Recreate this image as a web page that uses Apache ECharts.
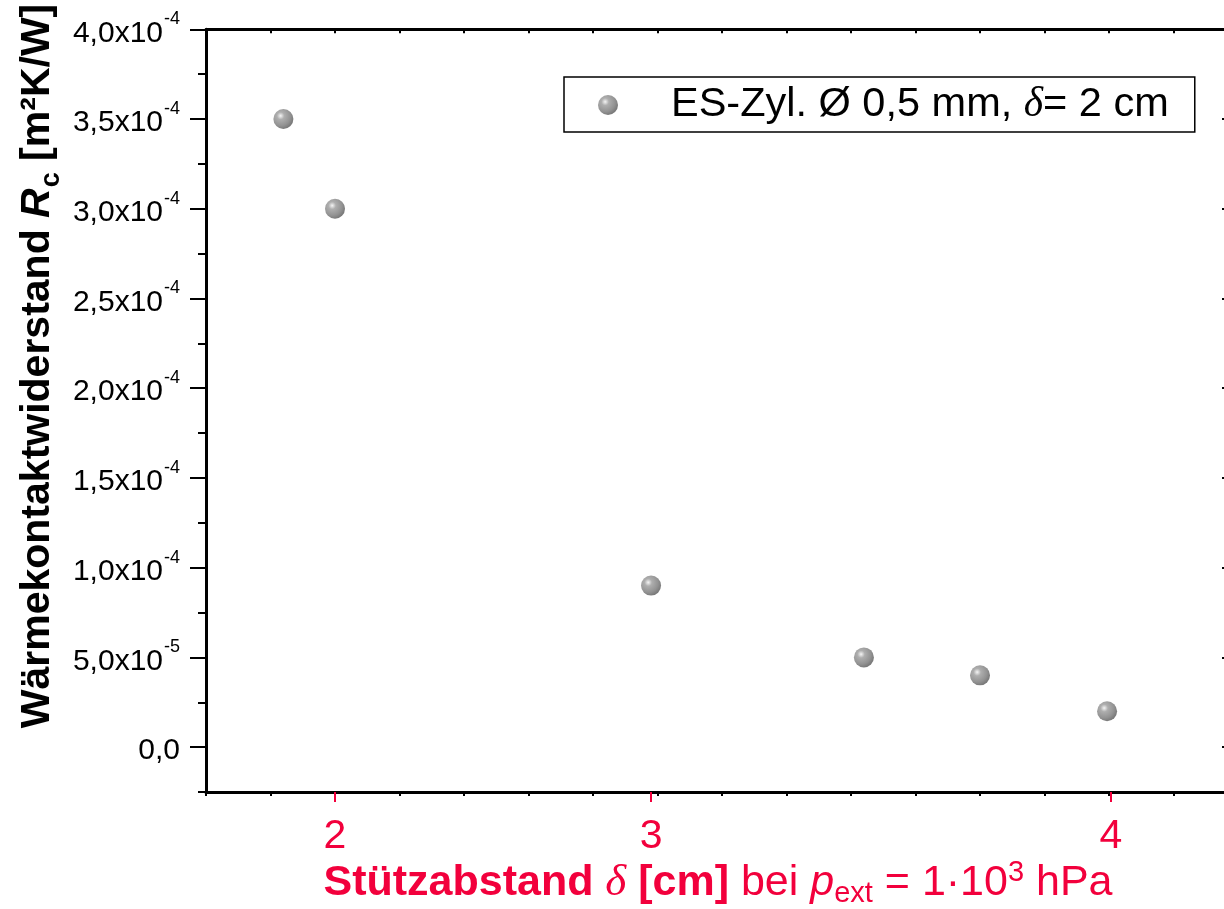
<!DOCTYPE html>
<html>
<head>
<meta charset="utf-8">
<script src="https://cdn.jsdelivr.net/npm/echarts@6/dist/echarts.min.js"></script>
<style>html,body{margin:0;padding:0;background:#fff;overflow:hidden;}#c{width:1260px;height:909px;}</style>
</head>
<body>
<div id="c"></div>
<script>
// Data (x in underlying linear axis units of the bottom scale; red labels give δ)
const xPos = [3.2, 4.0, 8.9, 12.2, 14.0, 15.97];
const yVals = [3.5e-4, 3.0e-4, 9.0e-5, 5.0e-5, 4.0e-5, 2.0e-5];
const seriesName = 'ES-Zyl. Ø 0,5 mm, δ= 2 cm';
// red δ tick labels and their positions on the linear axis
const redTickPos = [4.0, 8.9, 16.03];
const redTickLabels = ['2', '3', '4'];
// y tick values and labels
const yTickValues = [0, 5e-5, 1e-4, 1.5e-4, 2e-4, 2.5e-4, 3e-4, 3.5e-4, 4e-4];
const yTickMant = ['0,0', '5,0', '1,0', '1,5', '2,0', '2,5', '3,0', '3,5', '4,0'];
const yTickExp = ['', '-5', '-4', '-4', '-4', '-4', '-4', '-4', '-4'];

const RED = '#f2003c';
const FONT = 'Liberation Sans, Arial, sans-serif';
const chart = echarts.init(document.getElementById('c'), null, {renderer: 'canvas'});

const sphere = {
  type: 'radial', x: 0.36, y: 0.34, r: 0.66,
  colorStops: [
    {offset: 0, color: '#f2f2f2'},
    {offset: 0.28, color: '#9a9a9a'},
    {offset: 0.75, color: '#777777'},
    {offset: 1, color: '#5a5a5a'}
  ]
};

function nearestIdx(arr, v) {
  let best = 0, bd = Infinity;
  arr.forEach((a, i) => { const d = Math.abs(a - v); if (d < bd) { bd = d; best = i; } });
  return best;
}

const xMin = 2, xMax = 18, yMin = -2.5e-5, yMax = 4e-4;

const option = {
  animation: false,
  backgroundColor: '#fff',
  textStyle: {fontFamily: FONT},
  grid: {left: 206, top: 29.3, width: 1032, height: 762.7, containLabel: false},
  legend: {
    left: 564, top: 77,
    padding: [7, 26, 6, 34],
    borderColor: '#000', borderWidth: 1.5,
    itemWidth: 20, itemHeight: 20,
    icon: 'circle',
    data: [seriesName],
    formatter: function () { return '{t|ES-Zyl. Ø 0,5 mm, }{i|δ}{t|= 2 cm}'; },
    textStyle: {
      padding: [0, 0, 0, 48],
      rich: {
        t: {fontFamily: FONT, fontSize: 41.5, color: '#000', lineHeight: 44},
        i: {fontFamily: 'Liberation Serif, serif', fontStyle: 'italic', fontSize: 41.5, color: '#000', lineHeight: 44}
      }
    }
  },
  xAxis: [
    {
      type: 'value', position: 'bottom', min: xMin, max: xMax, interval: 1,
      axisLine: {show: true, onZero: false, lineStyle: {color: '#000', width: 3}},
      axisTick: {show: true, length: 4, lineStyle: {color: '#000', width: 2}},
      axisLabel: {show: false}, splitLine: {show: false}
    },
    {
      type: 'value', position: 'top', min: xMin, max: xMax, interval: 1,
      axisLine: {show: true, onZero: false, lineStyle: {color: '#000', width: 3}},
      axisTick: {show: true, inside: true, length: 4, lineStyle: {color: '#000', width: 2}},
      axisLabel: {show: false}, splitLine: {show: false}
    },
    {
      type: 'value', position: 'bottom', min: xMin, max: xMax,
      axisLine: {show: false, onZero: false},
      axisTick: {show: true, length: 10, customValues: redTickPos, lineStyle: {color: RED, width: 2}},
      axisLabel: {
        show: true, customValues: redTickPos, color: RED, fontSize: 41, fontFamily: FONT, margin: 24,
        formatter: function (v) { return redTickLabels[nearestIdx(redTickPos, v)]; }
      },
      splitLine: {show: false}
    }
  ],
  yAxis: [
    {
      type: 'value', position: 'left', min: yMin, max: yMax, interval: 2.5e-5,
      axisLine: {show: true, onZero: false, lineStyle: {color: '#000', width: 3}},
      axisTick: {show: true, length: 8, lineStyle: {color: '#000', width: 2}},
      axisLabel: {show: false}, splitLine: {show: false}
    },
    {
      type: 'value', position: 'left', min: yMin, max: yMax,
      axisLine: {show: false, onZero: false},
      axisTick: {show: true, length: 16, customValues: yTickValues, lineStyle: {color: '#000', width: 2}},
      axisLabel: {
        show: true, customValues: yTickValues, margin: 26,
        formatter: function (v) {
          const i = nearestIdx(yTickValues, v);
          return yTickExp[i] ? '{m|' + yTickMant[i] + 'x10}{s|' + yTickExp[i] + '}' : '{m|' + yTickMant[i] + '}';
        },
        rich: {
          m: {fontFamily: FONT, fontSize: 30, color: '#000', lineHeight: 38, verticalAlign: 'bottom'},
          s: {fontFamily: FONT, fontSize: 18, color: '#000', lineHeight: 38, verticalAlign: 'top', padding: [0, 0, 0, 1]}
        }
      },
      splitLine: {show: false}
    },
    {
      type: 'value', position: 'right', min: yMin, max: yMax,
      axisLine: {show: true, onZero: false, lineStyle: {color: '#000', width: 3}},
      axisTick: {show: true, inside: true, length: 16, customValues: yTickValues, lineStyle: {color: '#000', width: 2}},
      axisLabel: {show: false}, splitLine: {show: false}
    }
  ],
  series: [{
    name: seriesName,
    type: 'scatter',
    xAxisIndex: 0, yAxisIndex: 0,
    symbol: 'circle', symbolSize: 20,
    itemStyle: {color: sphere},
    data: xPos.map((x, i) => [x, yVals[i]])
  }],
  graphic: [
    {
      type: 'text', x: 41, y: 366, rotation: Math.PI / 2,
      style: {
        text: '{b|Wärmekontaktwiderstand }{bi|R}{sub|c}{b| [m²K/W]}',
        textAlign: 'center', textVerticalAlign: 'middle',
        rich: {
          b: {fontFamily: FONT, fontWeight: 'bold', fontSize: 41, fill: '#000', lineHeight: 48, verticalAlign: 'top'},
          bi: {fontFamily: FONT, fontWeight: 'bold', fontStyle: 'italic', fontSize: 41, fill: '#000', lineHeight: 48, verticalAlign: 'top'},
          sub: {fontFamily: FONT, fontWeight: 'bold', fontSize: 27, fill: '#000', lineHeight: 48, verticalAlign: 'bottom', padding: [0, 0, 0, 1]}
        }
      }
    },
    {
      type: 'text', x: 718, y: 883,
      style: {
        text: '{b|Stützabstand }{d|δ}{b| [cm]}{r| bei }{i|p}{sub|ext}{r| = 1·10}{sup|3}{r| hPa}',
        textAlign: 'center', textVerticalAlign: 'middle',
        rich: {
          b: {fontFamily: FONT, fontWeight: 'bold', fontSize: 43, fill: RED, lineHeight: 50, verticalAlign: 'middle'},
          d: {fontFamily: 'Liberation Serif, serif', fontStyle: 'italic', fontSize: 45, fill: RED, lineHeight: 50, verticalAlign: 'middle'},
          r: {fontFamily: FONT, fontSize: 43, fill: RED, lineHeight: 50, verticalAlign: 'middle'},
          i: {fontFamily: FONT, fontStyle: 'italic', fontSize: 43, fill: RED, lineHeight: 50, verticalAlign: 'middle'},
          sub: {fontFamily: FONT, fontSize: 29, fill: RED, lineHeight: 50, verticalAlign: 'bottom'},
          sup: {fontFamily: FONT, fontSize: 29, fill: RED, lineHeight: 50, verticalAlign: 'top'}
        }
      }
    }
  ]
};
chart.setOption(option);
</script>
</body>
</html>
